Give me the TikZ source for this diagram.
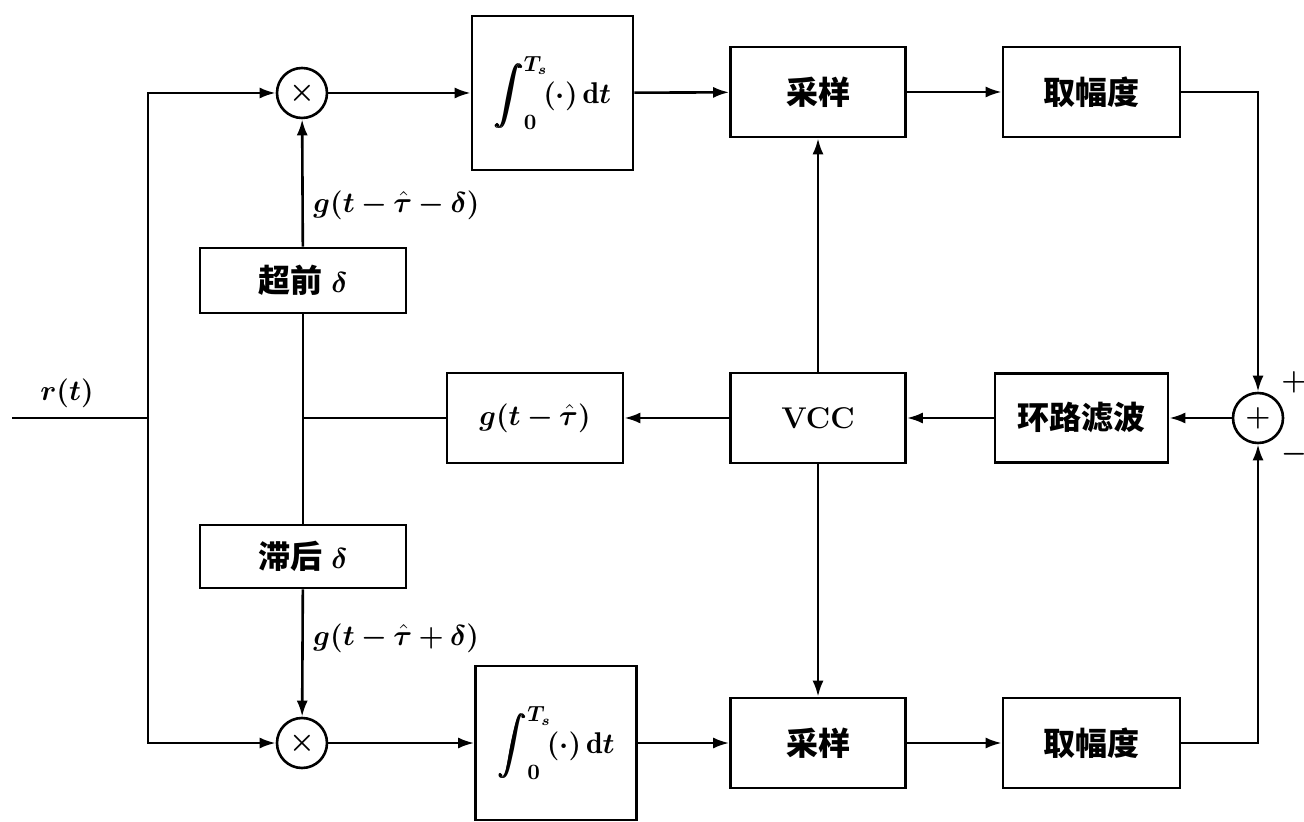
\documentclass[tikz,border=0pt]{standalone}
\usepackage{fontspec}
\usepackage{amsmath}
\usepackage{bm}
\newfontfamily\cjk{Noto Sans CJK SC}
\usetikzlibrary{arrows.meta}
\newcommand\myfs{\fontsize{15}{17}\selectfont}
\newcommand\cn{\cjk\bfseries\fontsize{16}{18}\selectfont}
\tikzset{
  blk/.style 2 args={draw, line width=1.3pt, inner sep=0pt, minimum width=#1, minimum height=#2, font=\myfs},
  opc/.style={draw, circle, line width=1.3pt, minimum size=25pt, inner sep=0pt, font=\myfs},
  wire/.style={line width=1.3pt},
  arr/.style={line width=1.3pt, -{Latex[length=8pt,width=5.5pt]}},
  lbl/.style={font=\myfs, inner sep=0pt}
}
\begin{document}
\begin{tikzpicture}[x=0.5pt,y=-0.5pt]
\useasboundingbox (0,0) rectangle (1304,822);
\node[opc] (mulT) at (302,93) {$\bm{\times}$};
\node[blk={80.5pt}{77pt}] (intT) at (552.5,93) {$\displaystyle\bm{\int_0^{T_s}\!(\cdot)\,\mathrm{d}t}$};
\node[blk={87.5pt}{45pt}] (sampT) at (818,92) {\cn 采样};
\node[blk={88.5pt}{45pt}] (ampT) at (1091.5,92) {\cn 取幅度};
\node[opc] (sum) at (1258,418) {$\bm{+}$};
\node[blk={86.5pt}{44.5pt}] (loop) at (1081.5,418) {\cn 环路滤波};
\node[blk={87.5pt}{45pt}] (vcc) at (818,418) {\bfseries VCC};
\node[blk={88pt}{45pt}] (gbox) at (535,418) {$\bm{g(t-\hat\tau)}$};
\node[blk={103pt}{32.5pt}] (lead) at (303,280.5) {{\cn 超前} $\bm{\delta}$};
\node[blk={103pt}{31.5pt}] (lag) at (303,556.5) {{\cn 滞后} $\bm{\delta}$};
\node[opc] (mulB) at (302,743) {$\bm{\times}$};
\node[blk={80.5pt}{77pt}] (intB) at (556,743) {$\displaystyle\bm{\int_0^{T_s}\!(\cdot)\,\mathrm{d}t}$};
\node[blk={87.5pt}{45pt}] (sampB) at (818,743) {\cn 采样};
\node[blk={88.5pt}{45pt}] (ampB) at (1091.5,743) {\cn 取幅度};
\node[lbl] (lr) at (67,393) {$\bm{r(t)}$};
\node[lbl, anchor=west] (lA) at (313,205) {$\bm{g(t-\hat\tau-\delta)}$};
\node[lbl, anchor=west] (lB) at (313,638) {$\bm{g(t-\hat\tau+\delta)}$};
\node[lbl] (lplus) at (1294,382) {$\bm{+}$};
\node[lbl] (lminus) at (1294,454) {$\bm{-}$};
\coordinate (rin) at (12,418);
\coordinate (br) at (148,418);
\coordinate (jn) at (302,418);
\draw[wire] (rin) -- (br);
\draw[arr] (br) |- (mulT);
\draw[arr] (br) |- (mulB);
\draw[arr] (mulT) -- (intT);
\draw[arr] (intT) -- (sampT);
\draw[arr] (sampT) -- (ampT);
\draw[arr] (ampT) -| (sum);
\draw[arr] (mulB) -- (intB);
\draw[arr] (intB) -- (sampB);
\draw[arr] (sampB) -- (ampB);
\draw[arr] (ampB) -| (sum);
\draw[arr] (sum) -- (loop);
\draw[arr] (loop) -- (vcc);
\draw[arr] (vcc) -- (gbox);
\draw[arr] (vcc) -- (sampT);
\draw[arr] (vcc) -- (sampB);
\draw[wire] (gbox) -- (jn);
\draw[wire] (lead) -- (lag);
\draw[arr] (lead) -- (mulT);
\draw[arr] (lag) -- (mulB);
\end{tikzpicture}
\end{document}
